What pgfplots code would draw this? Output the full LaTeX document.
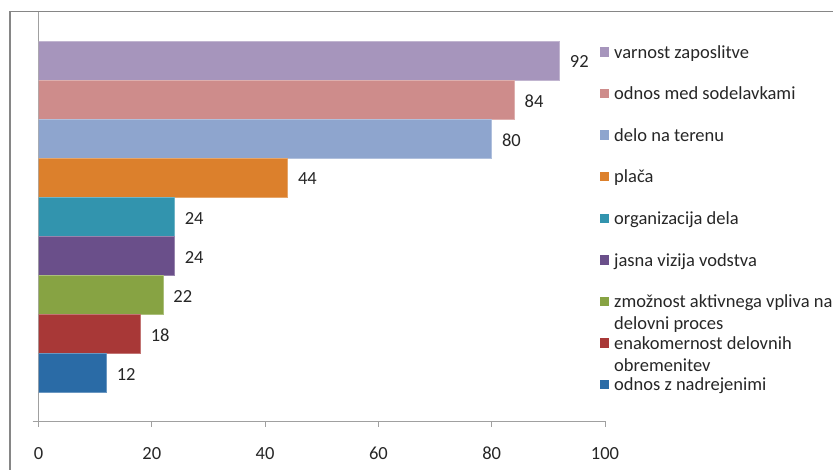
\documentclass[border=0pt]{standalone}
\usepackage{fontspec}
\setmainfont{Carlito}
\usepackage{pgfplots}
\pgfplotsset{compat=1.18}
\definecolor{c1}{RGB}{166,149,188}
\definecolor{c2}{RGB}{206,140,139}
\definecolor{c3}{RGB}{142,165,206}
\definecolor{c4}{RGB}{220,128,44}
\definecolor{c5}{RGB}{50,148,174}
\definecolor{c6}{RGB}{106,79,138}
\definecolor{c7}{RGB}{135,163,67}
\definecolor{c8}{RGB}{168,56,55}
\definecolor{c9}{RGB}{42,107,166}
\definecolor{framegray}{RGB}{134,134,134}
\definecolor{axgray}{RGB}{160,160,160}
\definecolor{txt}{RGB}{38,38,38}
\begin{document}
\begin{tikzpicture}[font=\fontsize{18.5bp}{22.2bp}\selectfont]
\useasboundingbox (0,0) rectangle (833bp,470bp);
\draw[framegray, line width=1.5bp] (10bp,-5bp) -- (10bp,458.3bp) -- (845bp,458.3bp);
\begin{axis}[
  at={(38.5bp,49bp)}, anchor=south west,
  scale only axis, width=566.5bp, height=409bp,
  xmin=0, xmax=100, ymin=-0.24, ymax=10.24,
  axis x line=bottom, axis y line=left,
  axis line style={-, draw=axgray, line width=0.8bp},
  xtick={0,20,40,60,80,100}, ytick={-0.24}, yticklabels={},
  tick align=outside, major tick length=6bp,
  tick style={draw=axgray, line width=0.8bp},
  /pgf/number format/assume math mode=true,
  tick label style={font=\fontsize{18.5bp}{22.2bp}\selectfont, text=txt},
  xticklabel style={yshift=-16.5bp},
  point meta=x,
  nodes near coords,
  nodes near coords style={font=\fontsize{18.5bp}{22.2bp}\selectfont, text=txt, anchor=west, inner sep=0pt, xshift=10bp, yshift=-1.5bp},
  legend cell align=left,
  legend style={at={(0.98994,0.9218)}, anchor=north west, draw=none, fill=none,
    inner sep=0pt, row sep=22.6bp, column sep=5.2bp,
    nodes={inner sep=0pt, text height=14bp, text depth=5bp, anchor=west},
    font=\fontsize{18.5bp}{22.2bp}\selectfont, text=txt},
  legend image code/.code={\draw[#1, draw=none] (0bp,-2.95bp) rectangle (9.5bp,6.55bp);},
]
\addplot[xbar, bar shift=0pt, bar width=1, fill=c1, draw=c1!70!white, line width=0.6bp] coordinates {(92,9)};
\addlegendentry{varnost zaposlitve}
\addplot[xbar, bar shift=0pt, bar width=1, fill=c2, draw=c2!70!white, line width=0.6bp] coordinates {(84,8)};
\addlegendentry{odnos med sodelavkami}
\addplot[xbar, bar shift=0pt, bar width=1, fill=c3, draw=c3!70!white, line width=0.6bp] coordinates {(80,7)};
\addlegendentry{delo na terenu}
\addplot[xbar, bar shift=0pt, bar width=1, fill=c4, draw=c4!70!white, line width=0.6bp] coordinates {(44,6)};
\addlegendentry{plača}
\addplot[xbar, bar shift=0pt, bar width=1, fill=c5, draw=c5!70!white, line width=0.6bp] coordinates {(24,5)};
\addlegendentry{organizacija dela}
\addplot[xbar, bar shift=0pt, bar width=1, fill=c6, draw=c6!70!white, line width=0.6bp] coordinates {(24,4)};
\addlegendentry{jasna vizija vodstva}
\addplot[xbar, bar shift=0pt, bar width=1, fill=c7, draw=c7!70!white, line width=0.6bp] coordinates {(22,3)};
\addlegendentry{\parbox[t]{300bp}{zmožnost aktivnega vpliva na\\delovni proces}}
\addplot[xbar, bar shift=0pt, bar width=1, fill=c8, draw=c8!70!white, line width=0.6bp] coordinates {(18,2)};
\addlegendentry{\parbox[t]{300bp}{enakomernost delovnih\\obremenitev}}
\addplot[xbar, bar shift=0pt, bar width=1, fill=c9, draw=c9!70!white, line width=0.6bp] coordinates {(12,1)};
\addlegendentry{odnos z nadrejenimi}
\end{axis}
\end{tikzpicture}
\end{document}
